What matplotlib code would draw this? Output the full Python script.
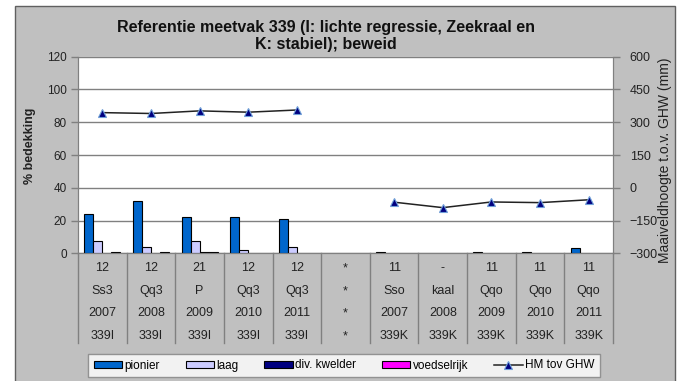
import numpy as np
import matplotlib.pyplot as plt
from matplotlib.patches import Rectangle

plt.rcParams['font.family'] = ['Liberation Sans', 'DejaVu Sans']

# cover (%) per vegetation class, one value per column (nan = not drawn)
pionier = [24, 32, 22, 22, 21, np.nan, 1, np.nan, 1, 1, 3]
laag = [7.5, 4, 7.5, 2, 4, np.nan, np.nan, np.nan, np.nan, np.nan, np.nan]
div_kwelder = [np.nan, np.nan, 1, np.nan, np.nan, np.nan, np.nan, np.nan, np.nan, np.nan, np.nan]
voedselrijk = [1, 1, 1, np.nan, np.nan, np.nan, np.nan, np.nan, np.nan, np.nan, np.nan]

# ground level relative to GHW (mm)
hm_ghw = [344, 340, 352, 346, 356, np.nan, -66, -91, -65, -68, -55]

# table rows under the x axis
row_code = ["12", "12", "21", "12", "12", "*", "11", "-", "11", "11", "11"]
row_type = ["Ss3", "Qq3", "P", "Qq3", "Qq3", "*", "Sso", "kaal", "Qqo", "Qqo", "Qqo"]
row_year = ["2007", "2008", "2009", "2010", "2011", "*", "2007", "2008", "2009", "2010", "2011"]
row_vak = ["339I", "339I", "339I", "339I", "339I", "*", "339K", "339K", "339K", "339K", "339K"]

series = [
    ("pionier", pionier, "#0066CC"),
    ("laag", laag, "#CCCCFF"),
    ("div. kwelder", div_kwelder, "#000080"),
    ("voedselrijk", voedselrijk, "#FF00FF"),
]

W, H = 681, 381
fig = plt.figure(figsize=(W / 100, H / 100), dpi=100)
fig.patch.set_facecolor("white")
fig.patches.append(Rectangle((15 / W, -0.05), 660 / W, 1.05 - 6 / H,
                             transform=fig.transFigure, facecolor="#C0C0C0",
                             edgecolor="#606060", linewidth=1, zorder=-10))

ax = fig.add_axes([78 / W, 1 - 253.3 / H, 535 / W, 196.6 / H])
ax.set_facecolor("white")
ax2 = ax.twinx()

x = np.arange(len(pionier))
bw = 0.185
handles = []
for i, (name, vals, col) in enumerate(series):
    b = ax.bar(x + (i - 1.5) * bw, vals, width=bw, color=col,
               edgecolor="black", linewidth=0.8, label=name, zorder=3)
    handles.append(b)

line, = ax2.plot(x, hm_ghw, color="#222222", linewidth=1.1, marker="^",
                 markersize=6, markerfacecolor="#000080",
                 markeredgecolor="#6F9FD8", markeredgewidth=0.8,
                 label="HM tov GHW", zorder=4)
handles.append(line)

ax.set_xlim(-0.5, len(pionier) - 0.5)
ax.set_ylim(0, 120)
ax.set_yticks(range(0, 121, 20))
ax2.set_ylim(-300, 600)
ax2.set_yticks(range(-300, 601, 150))
ax.set_xticks([])
ax.yaxis.grid(True, color="#808080", linewidth=1)
ax.set_axisbelow(True)

for a in (ax, ax2):
    for s in a.spines.values():
        s.set_color("#808080")
    a.spines["top"].set_visible(False)
    a.tick_params(axis="y", colors="#808080", labelcolor="#222222",
                  length=5, width=1, direction="out")
ax.tick_params(axis="y", pad=3, labelsize=8.5)
ax2.tick_params(axis="y", pad=7, labelsize=9)

fig.text(30 / W, 1 - 146 / H, "% bedekking", rotation=90, fontsize=9,
         fontweight="bold", color="#222222", ha="center", va="center")
fig.text(665 / W, 1 - 160 / H, "Maaiveldhoogte t.o.v. GHW (mm)", rotation=90,
         fontsize=10, color="#222222", ha="center", va="center")

fig.text(326 / W, 1 - 36 / H,
         "Referentie meetvak 339 (I: lichte regressie, Zeekraal en\nK: stabiel); beweid",
         fontsize=11.5, fontweight="bold", ha="center", va="center",
         linespacing=1.1, color="#111111")

# table under the plot: separators and four rows of labels
trans = ax.get_xaxis_transform()
ax_h = 196.6
for b in np.arange(-0.5, len(pionier), 1.0):
    ax.plot([b, b], [0, -(343 - 253.3) / ax_h], transform=trans,
            color="#808080", linewidth=1, clip_on=False)
for rowy, labels in zip([268, 291, 313, 336], [row_code, row_type, row_year, row_vak]):
    for xi, lab in zip(x, labels):
        ax.text(xi, -(rowy - 253.3) / ax_h, lab, transform=trans, ha="center",
                va="center", fontsize=9, color="#222222")

leg = fig.legend(handles=handles, labels=[h.get_label() for h in handles],
                 loc="center", bbox_to_anchor=(344 / W, 1 - 365.5 / H), ncol=5,
                 fontsize=8.5, frameon=True, fancybox=False, edgecolor="#808080",
                 handlelength=2.4, handleheight=0.5, handletextpad=0.2,
                 columnspacing=2.2, borderpad=0.45)
leg.get_frame().set_linewidth(1)

fig.savefig("out.png", dpi=100, facecolor=fig.get_facecolor())
